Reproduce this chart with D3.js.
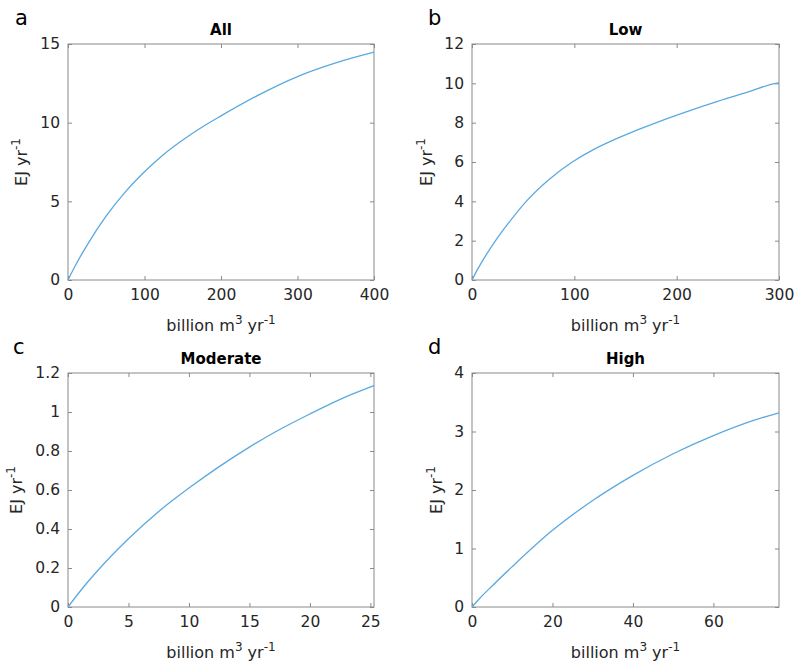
<!DOCTYPE html>
<html>
<head>
<meta charset="utf-8">
<script src="https://cdn.jsdelivr.net/npm/d3@7"></script>
<style>
  body { margin: 0; background: #fff; }
  svg { font-family: "DejaVu Sans", sans-serif; }
</style>
</head>
<body>
<div id="chart"></div>
<script>
// panel data
const allX = [0, 10, 25, 50, 75, 100, 125, 150, 175, 200, 250, 300, 350, 400];
const allY = [0, 0.95, 2.22, 4.07, 5.6, 6.88, 7.98, 8.9, 9.71, 10.43, 11.78, 12.93, 13.8, 14.48];

const lowX = [0, 5, 10, 23, 35, 53, 75, 98, 120, 140, 160, 181, 210, 240, 270, 297, 300];
const lowY = [0, 0.5, 0.95, 2.0, 2.85, 4.0, 5.1, 6.0, 6.67, 7.16, 7.6, 8.02, 8.56, 9.08, 9.56, 10.0, 10.02];

const modX = [0, 1.25, 2.5, 5, 7.5, 10, 12.5, 15, 17.5, 20, 22.5, 25.3];
const modY = [0, 0.1, 0.19, 0.35, 0.49, 0.61, 0.72, 0.82, 0.91, 0.99, 1.065, 1.135];

const highX = [0, 2, 5, 10, 20, 30, 40, 50, 60, 70, 76.3];
const highY = [0, 0.155, 0.36, 0.69, 1.31, 1.82, 2.25, 2.62, 2.93, 3.19, 3.32];

const panels = [
  { letter: 'a', title: 'All', xs: allX, ys: allY, xMax: 400, yMax: 15,
    xTicks: [0, 100, 200, 300, 400], yTicks: [0, 5, 10, 15],
    left: 68, top: 44, right: 374, bottom: 280, ylabX: 27, letterX: 15 },
  { letter: 'b', title: 'Low', xs: lowX, ys: lowY, xMax: 300, yMax: 12,
    xTicks: [0, 100, 200, 300], yTicks: [0, 2, 4, 6, 8, 10, 12],
    left: 472, top: 44, right: 779, bottom: 280, ylabX: 432, letterX: 428 },
  { letter: 'c', title: 'Moderate', xs: modX, ys: modY, xMax: 25.3, yMax: 1.2,
    xTicks: [0, 5, 10, 15, 20, 25], yTicks: [0, 0.2, 0.4, 0.6, 0.8, 1, 1.2],
    left: 68, top: 373, right: 374, bottom: 607, ylabX: 22, letterX: 13 },
  { letter: 'd', title: 'High', xs: highX, ys: highY, xMax: 76.3, yMax: 4,
    xTicks: [0, 20, 40, 60], yTicks: [0, 1, 2, 3, 4],
    left: 472, top: 373, right: 779, bottom: 607, ylabX: 442, letterX: 428 }
];

const W = 797, H = 668;
const axisColor = '#8a8a8a';
const textColor = '#262626';
const lineColor = '#5aa9e0';

const svg = d3.select('#chart').append('svg')
  .attr('width', W)
  .attr('height', H);

panels.forEach(p => {
  const x = d3.scaleLinear().domain([0, p.xMax]).range([p.left, p.right]);
  const y = d3.scaleLinear().domain([0, p.yMax]).range([p.bottom, p.top]);
  const g = svg.append('g');

  // box
  g.append('rect')
    .attr('x', p.left).attr('y', p.top)
    .attr('width', p.right - p.left).attr('height', p.bottom - p.top)
    .attr('fill', 'none')
    .attr('stroke', axisColor)
    .attr('stroke-width', 1);

  const fmt = d => String(d);

  // bottom + left axes with labels, ticks pointing in
  const xAxis = g.append('g')
    .attr('transform', `translate(0,${p.bottom})`)
    .call(d3.axisBottom(x).tickValues(p.xTicks).tickFormat(fmt)
      .tickSizeInner(-4).tickSizeOuter(0).tickPadding(9));
  const yAxis = g.append('g')
    .attr('transform', `translate(${p.left},0)`)
    .call(d3.axisLeft(y).tickValues(p.yTicks).tickFormat(fmt)
      .tickSizeInner(-4).tickSizeOuter(0).tickPadding(8));

  // top + right mirrored ticks
  const xTop = g.append('g')
    .attr('transform', `translate(0,${p.top})`)
    .call(d3.axisTop(x).tickValues(p.xTicks).tickFormat('')
      .tickSizeInner(-4).tickSizeOuter(0));
  const yRight = g.append('g')
    .attr('transform', `translate(${p.right},0)`)
    .call(d3.axisRight(y).tickValues(p.yTicks).tickFormat('')
      .tickSizeInner(-4).tickSizeOuter(0));

  [xAxis, yAxis, xTop, yRight].forEach(a => {
    a.select('.domain').remove();
    a.selectAll('line').attr('stroke', axisColor);
    a.selectAll('text')
      .attr('fill', textColor)
      .style('font-size', '15.5px')
      .style('font-family', '"DejaVu Sans", sans-serif');
  });

  // curve
  const pts = p.xs.map((v, i) => [v, p.ys[i]]);
  g.append('path')
    .datum(pts)
    .attr('d', d3.line().x(d => x(d[0])).y(d => y(d[1])).curve(d3.curveMonotoneX))
    .attr('fill', 'none')
    .attr('stroke', lineColor)
    .attr('stroke-width', 1.3);

  // title
  g.append('text')
    .attr('x', (p.left + p.right) / 2)
    .attr('y', p.top - 9)
    .attr('text-anchor', 'middle')
    .attr('fill', '#000')
    .style('font-size', '15px')
    .style('font-weight', 'bold')
    .text(p.title);

  // panel letter
  g.append('text')
    .attr('x', p.letterX)
    .attr('y', p.top - 19)
    .attr('fill', '#000')
    .style('font-size', '21px')
    .text(p.letter);

  // x label
  const xl = g.append('text')
    .attr('x', (p.left + p.right) / 2)
    .attr('y', p.bottom + 51)
    .attr('text-anchor', 'middle')
    .attr('fill', textColor)
    .style('font-size', '16px');
  xl.append('tspan').text('billion m');
  xl.append('tspan').attr('dy', -7).style('font-size', '12px').text('3');
  xl.append('tspan').attr('dy', 7).text(' yr');
  xl.append('tspan').attr('dy', -7).style('font-size', '12px').text('-1');

  // y label
  const yl = g.append('text')
    .attr('transform', `translate(${p.ylabX},${(p.top + p.bottom) / 2}) rotate(-90)`)
    .attr('text-anchor', 'middle')
    .attr('fill', textColor)
    .style('font-size', '16px');
  yl.append('tspan').text('EJ yr');
  yl.append('tspan').attr('dy', -7).style('font-size', '12px').text('-1');
});
</script>
</body>
</html>
